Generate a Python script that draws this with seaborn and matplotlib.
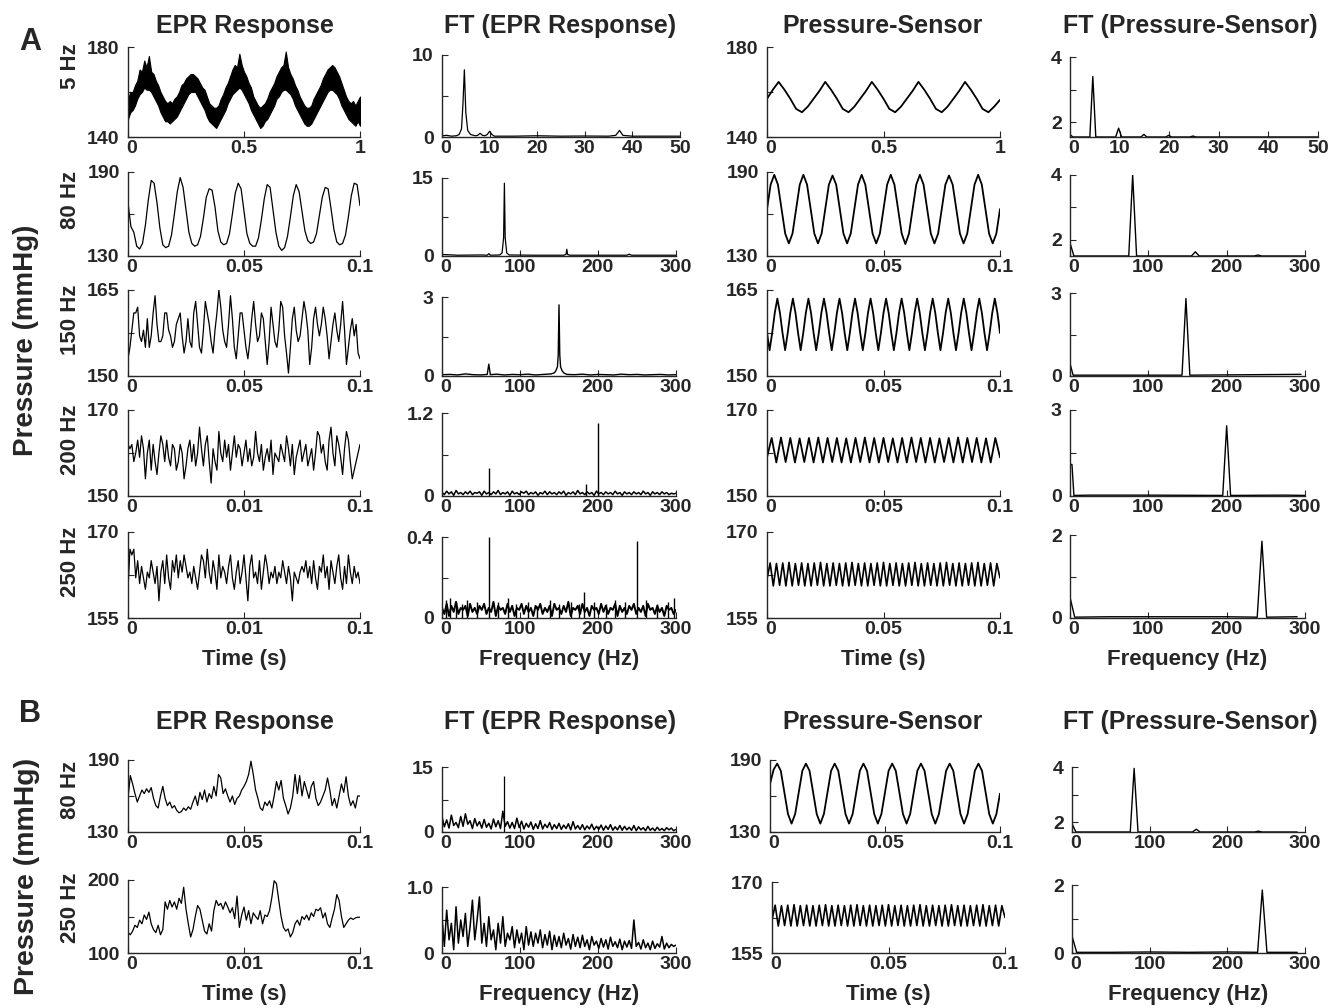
import numpy as np
import matplotlib
matplotlib.use("Agg")
import matplotlib.pyplot as plt
import matplotlib.transforms as mtransforms
import seaborn as sns

# ---------------- data ----------------
# Panel A, 5 Hz (t = 0..1 s): the EPR trace is drawn as its noisy band (upper / lower edge)
epr_5hz_hi = [157, 160, 160, 163, 165, 170, 169, 174, 171, 176, 169, 168, 165, 163, 160, 158, 156, 155, 156, 155,
              157, 158, 160, 163, 164, 166, 167, 168, 168, 167, 166, 164, 162, 161, 158, 155, 154, 153, 153, 154,
              157, 159, 162, 164, 167, 170, 172, 171, 177, 172, 169, 167, 164, 162, 158, 156, 154, 153, 154, 155,
              157, 160, 162, 164, 167, 169, 171, 172, 178, 171, 168, 166, 163, 161, 158, 156, 154, 153, 153, 154,
              157, 159, 161, 163, 166, 168, 170, 171, 172, 171, 169, 167, 164, 161, 158, 156, 155, 156, 154, 156,
              158]
epr_5hz_lo = [148, 151, 152, 154, 157, 159, 160, 162, 161, 161, 160, 158, 156, 154, 151, 149, 147, 147, 146, 147,
              148, 149, 151, 153, 155, 157, 159, 160, 160, 160, 158, 156, 154, 152, 149, 147, 146, 145, 144, 146,
              148, 150, 152, 155, 157, 159, 160, 161, 162, 161, 159, 157, 155, 152, 150, 148, 146, 144, 145, 147,
              148, 150, 152, 154, 157, 158, 160, 161, 161, 160, 159, 157, 154, 152, 150, 148, 146, 145, 145, 146,
              148, 150, 152, 154, 156, 158, 160, 161, 161, 160, 159, 157, 154, 152, 150, 148, 147, 146, 145, 147,
              145]
ft_epr_5hz_f = [0, 1, 2, 3, 3.6, 4.1, 4.4, 4.7, 5.0, 5.4, 6, 7, 7.5, 8, 8.5, 9, 9.5, 10, 10.5, 11,
                15, 20, 25, 30, 35, 36.5, 37.3, 38, 40, 45, 50]
ft_epr_5hz_a = [0.15, 0.2, 0.1, 0.15, 0.3, 1.0, 4.0, 8.2, 3.0, 0.8, 0.3, 0.15, 0.2, 0.45, 0.2, 0.15, 0.3, 0.7, 0.3, 0.1,
                0.1, 0.15, 0.1, 0.12, 0.1, 0.2, 0.8, 0.2, 0.1, 0.1, 0.1]
ps_5hz = [157, 161, 164.5, 161, 157, 152.5, 151, 153.5, 157, 160.5,
          164.5, 161, 157, 152.5, 151, 153.5, 157, 160.5,
          164.5, 161, 157, 152.5, 151, 153.5, 157, 160.5,
          164.5, 161, 157, 152.5, 151, 153.5, 157, 160.5,
          164.5, 161, 157, 152.5, 151, 153.5, 156.5]
ft_ps_5hz_f = [0, 0.6, 4.0, 4.6, 5.2, 9.2, 9.8, 10.4, 14.3, 14.9, 15.5, 19.3, 19.9, 20.5, 24.2, 24.8, 25.4, 50]
ft_ps_5hz_a = [1.62, 1.55, 1.55, 3.4, 1.55, 1.55, 1.82, 1.55, 1.55, 1.63, 1.55, 1.55, 1.6, 1.55, 1.55, 1.58, 1.55, 1.55]

# Panel A, 80 Hz (t = 0..0.1 s)
epr_80hz = [168, 151, 147, 137, 135, 139, 152, 170, 184, 182,
            168, 150, 138, 136, 137, 145, 160, 176, 186, 179,
            163, 147, 139, 137, 138, 144, 157, 172, 178, 177,
            165, 148, 140, 138, 139, 146, 160, 175, 182, 178,
            162, 146, 139, 137, 137, 143, 156, 171, 181, 179,
            163, 147, 137, 134, 136, 144, 158, 173, 181, 176,
            162, 148, 141, 139, 140, 146, 159, 172, 179, 178,
            164, 149, 140, 138, 139, 145, 158, 173, 182, 181,
            166]
ft_epr_80hz_f = [0, 20, 50, 58, 60, 62, 74, 77, 79, 80, 81, 83, 86, 120, 156, 159, 160, 161, 164, 200,
                 237, 240, 243, 300]
ft_epr_80hz_a = [0.3, 0.15, 0.2, 0.15, 0.45, 0.15, 0.2, 0.6, 3.5, 14.0, 3.5, 0.6, 0.2, 0.15, 0.15, 0.3, 1.3, 0.3,
                 0.15, 0.15, 0.15, 0.35, 0.15, 0.15]
ps_80hz = [163.5, 181, 188, 181, 163.5, 146, 139, 146,
           163.5, 181, 188, 181, 163.5, 146, 139, 146,
           163.5, 181, 187.5, 181, 163.5, 146, 139, 146,
           163.5, 181, 188, 181, 163.5, 146, 139, 146,
           163.5, 181, 188, 181, 163.5, 146, 138.5, 146,
           163.5, 181, 188, 181, 163.5, 146, 139, 146,
           163.5, 181, 187.5, 181, 163.5, 146, 139, 146,
           163.5, 181, 188, 181, 163.5, 146, 139, 146,
           163.5]
ft_ps_80hz_f = [0, 5, 75, 80, 85, 155, 160, 165, 235, 240, 245, 300]
ft_ps_80hz_a = [1.9, 1.5, 1.5, 4.0, 1.5, 1.5, 1.63, 1.5, 1.5, 1.53, 1.5, 1.5]

# Panel A, 150 Hz
epr_150hz = [153, 155, 158, 161, 161, 162, 157, 156,
             158, 155, 160, 155, 157, 161, 164, 159,
             156, 156, 157, 161, 161, 158, 157, 155,
             156, 159, 160, 161, 157, 154, 156, 160,
             156, 155, 161, 163, 159, 155, 154, 158,
             163, 161, 159, 156, 154, 158, 161, 165,
             162, 158, 156, 155, 159, 164, 160, 155,
             153, 157, 161, 161, 158, 155, 153, 156,
             160, 163, 159, 156, 157, 161, 160, 156,
             152, 156, 162, 159, 156, 155, 158, 163,
             162, 157, 154, 150.5, 155, 160, 162, 158,
             156, 157, 160, 163, 161, 158, 152, 155,
             160, 162, 159, 157, 159, 162, 160, 157,
             153, 156, 159, 161, 158, 156, 159, 163,
             158, 152, 155, 158, 160, 157, 159, 154,
             153]
ft_epr_150hz_f = [0, 10, 20, 30, 40, 50, 58, 60, 62, 70, 80, 90, 100, 110, 120, 130, 140, 144, 146, 148,
                  149, 150, 151, 152, 154, 156, 160, 170, 180, 190, 200, 210, 220, 230, 240, 250, 260, 270,
                  280, 290, 300]
ft_epr_150hz_a = [0.05, 0.06, 0.04, 0.08, 0.05, 0.04, 0.06, 0.45, 0.05, 0.07, 0.04, 0.06, 0.05, 0.07, 0.04,
                  0.06, 0.08, 0.12, 0.2, 0.35, 0.8, 2.7, 0.8, 0.35, 0.2, 0.12, 0.06, 0.05, 0.07, 0.04, 0.06,
                  0.05, 0.04, 0.07, 0.05, 0.06, 0.04, 0.05, 0.06, 0.04, 0.05]
ps_150hz = [157.5, 154.5, 157.5, 161, 163.5, 161,
            157.5, 154.5, 157.5, 161, 163.5, 161,
            157.5, 154.5, 157.5, 161, 163.5, 161,
            157.5, 154.5, 157.5, 161, 163.5, 161,
            157.5, 154.5, 157.5, 161, 163.5, 161,
            157.5, 154.5, 157.5, 161, 163.5, 161,
            157.5, 154.5, 157.5, 161, 163.5, 161,
            157.5, 154.5, 157.5, 161, 163.5, 161,
            157.5, 154.5, 157.5, 161, 163.5, 161,
            157.5, 154.5, 157.5, 161, 163.5, 161,
            157.5, 154.5, 157.5, 161, 163.5, 161,
            157.5, 154.5, 157.5, 161, 163.5, 161,
            157.5, 154.5, 157.5, 161, 163.5, 161,
            157.5, 154.5, 157.5, 161, 163.5, 161,
            157.5, 154.5, 157.5, 161, 163.5, 161,
            157.5]
ft_ps_150hz_f = [0, 4, 143, 148, 153, 295]
ft_ps_150hz_a = [0.45, 0.03, 0.03, 2.8, 0.03, 0.06]

# Panel A, 200 Hz
epr_200hz = [162, 161, 162, 158, 160, 163, 159, 164, 161, 154,
             160, 163, 156, 162, 158, 155, 160, 164, 162, 158,
             163, 159, 157, 162, 161, 156, 158, 162, 160, 154,
             157, 161, 163, 158, 162, 157, 160, 166, 161, 157,
             162, 164, 158, 153, 161, 158, 156, 165, 160, 158,
             163, 159, 162, 156, 160, 164, 159, 162, 161, 157,
             160, 163, 158, 161, 157, 159, 165, 160, 158, 162,
             156, 159, 161, 158, 163, 155, 160, 159, 158, 162,
             160, 158, 164, 161, 157, 162, 155, 159, 161, 163,
             158, 160, 162, 157, 159, 161, 156, 160, 165, 164,
             160, 162, 158, 156, 163, 166, 160, 157, 164, 162,
             159, 155, 161, 165, 163, 158, 154, 156, 158, 160,
             162]
ft_epr_200hz_a = [0.05, 0.02, 0.07, 0.03, 0.06, 0.01, 0.08, 0.03, 0.05, 0.02,
                  0.06, 0.03, 0.07, 0.02, 0.05, 0.04, 0.06, 0.01, 0.07, 0.03,
                  0.05, 0.02, 0.06, 0.03, 0.08, 0.02, 0.05, 0.03, 0.06, 0.01,
                  0.07, 0.03, 0.05, 0.02, 0.06, 0.04, 0.07, 0.02, 0.05, 0.03,
                  0.06, 0.01, 0.05, 0.03, 0.07, 0.02, 0.06, 0.03, 0.05, 0.02,
                  0.06, 0.03, 0.07, 0.01, 0.05, 0.03, 0.06, 0.02, 0.08, 0.03,
                  0.05, 0.02, 0.06, 0.03, 0.05, 0.01, 0.07, 0.03, 0.05, 0.02,
                  0.06, 0.03, 0.05, 0.02, 0.07, 0.03, 0.05, 0.01, 0.06, 0.03,
                  0.05, 0.02, 0.06, 0.03, 0.05, 0.02, 0.07, 0.03, 0.05, 0.01,
                  0.06, 0.03, 0.05, 0.02, 0.06, 0.03, 0.05, 0.02, 0.04, 0.03, 0.04]
ft_epr_200hz_spike_f = [60, 185, 200]
ft_epr_200hz_spike_h = [0.4, 0.17, 1.05]
ps_200hz = [159.0, 163.5, 157.8, 163.6, 157.9, 163.5, 157.8, 163.4, 157.9, 163.5,
            157.8, 163.6, 157.8, 163.5, 157.9, 163.5, 157.8, 163.4, 157.8, 163.5,
            157.9, 163.6, 157.8, 163.5, 157.8, 163.5, 157.9, 163.4, 157.8, 163.5,
            157.8, 163.6, 157.9, 163.5, 157.8, 163.5, 157.8, 163.4, 157.9, 163.5,
            157.8, 163.6, 157.8, 163.5, 157.9, 163.5, 157.8, 163.4, 157.8, 163.5,
            159.0]
ft_ps_200hz_f = [0, 2.5, 5, 25, 50, 75, 100, 195, 200, 205, 275, 300]
ft_ps_200hz_a = [1.1, 1.1, 0.02, 0.03, 0.03, 0.03, 0.03, 0.02, 2.45, 0.02, 0.03, 0.02]

# Panel A, 250 Hz
epr_250hz = [160, 167, 166, 167, 162, 165, 161, 164, 162, 160,
             163, 162, 165, 163, 161, 164, 158, 163, 165, 161,
             166, 162, 160, 165, 163, 166, 162, 165, 163, 166,
             164, 162, 163, 161, 164, 162, 160, 163, 166, 165,
             162, 167, 163, 161, 165, 163, 160, 166, 162, 164,
             163, 161, 164, 166, 162, 160, 163, 165, 161, 163,
             166, 162, 158, 164, 166, 162, 163, 161, 165, 160,
             163, 166, 164, 161, 163, 162, 164, 161, 163, 162,
             165, 163, 161, 164, 162, 158, 163, 162, 161, 163,
             164, 163, 165, 162, 164, 161, 165, 162, 160, 164,
             163, 166, 162, 164, 160, 165, 163, 161, 164, 166,
             162, 160, 164, 161, 166, 163, 161, 164, 162, 163,
             161]
ft_epr_250hz_a = [0.05, 0.02, 0.07, 0.01, 0.06, 0.03, 0.08, 0.02, 0.05, 0.04,
                  0.06, 0.01, 0.07, 0.03, 0.05, 0.02, 0.06, 0.04, 0.07, 0.02,
                  0.05, 0.03, 0.08, 0.01, 0.06, 0.04, 0.05, 0.02, 0.07, 0.03,
                  0.06, 0.01, 0.05, 0.04, 0.07, 0.02, 0.06, 0.03, 0.05, 0.01,
                  0.06, 0.04, 0.07, 0.02, 0.05, 0.03, 0.06, 0.01, 0.07, 0.04,
                  0.05, 0.02, 0.06, 0.03, 0.08, 0.01, 0.05, 0.04, 0.06, 0.02,
                  0.07, 0.03, 0.05, 0.01, 0.06, 0.04, 0.05, 0.02, 0.07, 0.03,
                  0.06, 0.02, 0.05, 0.04, 0.07, 0.01, 0.06, 0.03, 0.05, 0.02,
                  0.06, 0.04, 0.07, 0.02, 0.05, 0.03, 0.06, 0.01, 0.07, 0.04,
                  0.05, 0.02, 0.06, 0.03, 0.05, 0.01, 0.06, 0.04, 0.05, 0.02, 0.04]
ft_epr_250hz_spike_f = [5, 10, 18, 25, 32, 45, 60, 72, 85, 95, 110, 122, 138, 150, 165, 175, 182, 195,
                        210, 222, 235, 250, 262, 275, 290, 298]
ft_epr_250hz_spike_h = [0.09, 0.1, 0.08, 0.07, 0.09, 0.08, 0.4, 0.08, 0.1, 0.07, 0.08, 0.06, 0.09, 0.07,
                        0.08, 0.07, 0.13, 0.08, 0.07, 0.09, 0.08, 0.38, 0.09, 0.07, 0.08, 0.1]
ps_250hz = [161.8, 164.6, 160.6, 164.5, 160.7, 164.6, 160.6, 164.7, 160.6, 164.5,
            160.7, 164.6, 160.6, 164.5, 160.6, 164.6, 160.7, 164.7, 160.6, 164.5,
            160.6, 164.6, 160.7, 164.5, 160.6, 164.6, 160.6, 164.7, 160.7, 164.5,
            160.6, 164.6, 160.6, 164.5, 160.7, 164.6, 160.6, 164.7, 160.6, 164.5,
            160.7, 164.6, 160.6, 164.5, 160.6, 164.6, 160.7, 164.7, 160.6, 164.5,
            160.6, 164.6, 160.7, 164.5, 160.6, 164.6, 160.6, 164.7, 160.7, 164.5,
            160.6, 164.6, 160.6, 164.5, 160.7, 164.6, 160.6, 164.7, 160.6, 164.5,
            160.7, 164.6, 160.6, 164.5, 162.0]
ft_ps_250hz_f = [0, 6, 50, 100, 150, 200, 239, 245, 251, 290]
ft_ps_250hz_a = [0.5, 0.02, 0.03, 0.03, 0.03, 0.03, 0.02, 1.85, 0.02, 0.03]

# Panel B, 80 Hz
b_epr_80hz = [158, 177, 170, 162, 155, 160, 165, 162, 166, 163,
              167, 158, 152, 150, 160, 168, 158, 152, 155, 150,
              152, 148, 146, 147, 150, 148, 151, 149, 155, 160,
              152, 163, 157, 165, 155, 162, 158, 168, 160, 178,
              175, 162, 166, 160, 155, 160, 153, 158, 160, 165,
              168, 172, 178, 189, 178, 165, 158, 150, 148, 155,
              152, 156, 150, 160, 172, 165, 173, 158, 152, 145,
              150, 160, 178, 162, 177, 160, 172, 165, 158, 168,
              172, 158, 152, 155, 160, 165, 175, 165, 152, 158,
              150, 160, 170, 163, 176, 160, 152, 156, 150, 160,
              160]
b_ft_epr_80hz = [3.5, 1.2, 2.8, 0.9, 3.9, 1.5, 2.2, 1.0, 3.6, 1.3,
                 4.2, 1.8, 2.6, 0.8, 3.1, 1.4, 2.4, 0.9, 2.9, 1.1,
                 2.0, 0.7, 3.0, 1.2, 2.6, 0.8, 4.8, 1.3, 2.4, 0.9,
                 2.2, 0.8, 3.2, 1.0, 2.5, 0.7, 2.0, 1.1, 2.3, 0.6,
                 1.9, 0.8, 2.6, 0.7, 1.8, 1.0, 2.2, 0.6, 1.7, 0.8,
                 2.0, 0.6, 1.6, 0.8, 1.9, 0.5, 2.4, 0.7, 1.5, 0.6,
                 1.7, 0.5, 1.4, 0.7, 1.8, 0.5, 1.3, 0.6, 1.6, 0.4,
                 1.4, 0.6, 1.7, 0.4, 1.2, 0.5, 1.5, 0.4, 1.3, 0.5,
                 1.1, 0.4, 1.5, 0.3, 1.2, 0.5, 1.0, 0.3, 1.3, 0.4,
                 0.9, 0.3, 1.1, 0.4, 0.8, 0.3, 1.0, 0.5, 0.9, 0.3, 0.6]
b_ft_epr_80hz_spike_f = [80]
b_ft_epr_80hz_spike_h = [13.0]
b_ps_80hz = [170, 182, 187, 181, 163, 145, 137, 145,
             163, 181, 187, 181, 163, 145, 137, 145,
             163, 181, 187, 181, 163, 145, 137, 145,
             163, 181, 187, 181, 163, 145, 137, 145,
             163, 181, 187, 181, 163, 145, 137, 145,
             163, 181, 187, 181, 163, 145, 137, 145,
             163, 181, 187, 181, 163, 145, 137, 145,
             163, 181, 187, 181, 163, 145, 137, 145,
             162]
b_ft_ps_80hz_f = [0, 5, 75, 80, 85, 155, 160, 165, 235, 240, 245, 290]
b_ft_ps_80hz_a = [1.95, 1.65, 1.65, 3.95, 1.65, 1.65, 1.75, 1.65, 1.65, 1.68, 1.65, 1.65]

# Panel B, 250 Hz
b_epr_250hz = [128, 125, 130, 138, 135, 145, 140, 152, 146, 156,
               140, 132, 128, 138, 125, 132, 170, 160, 172, 163,
               170, 160, 175, 168, 190, 160, 140, 122, 132, 150,
               165, 160, 145, 130, 126, 140, 130, 158, 172, 165,
               168, 160, 170, 163, 155, 162, 147, 178, 135, 152,
               163, 145, 158, 140, 155, 150, 146, 158, 140, 152,
               150, 158, 176, 199, 195, 172, 150, 135, 130, 133,
               122, 128, 140, 145, 138, 150, 146, 152, 145, 155,
               150, 160, 158, 162, 148, 155, 140, 135, 148, 160,
               180, 172, 150, 135, 140, 145, 148, 146, 148, 149,
               149]
b_ft_epr_250hz = [0.55, 0.1, 0.65, 0.2, 0.45, 0.05, 0.7, 0.15, 0.5, 0.25,
                  0.6, 0.1, 0.4, 0.8, 0.2, 0.5, 0.85, 0.15, 0.45, 0.1,
                  0.55, 0.2, 0.35, 0.05, 0.45, 0.15, 0.55, 0.1, 0.3, 0.2,
                  0.4, 0.08, 0.35, 0.15, 0.3, 0.05, 0.4, 0.12, 0.32, 0.1,
                  0.3, 0.15, 0.35, 0.08, 0.28, 0.12, 0.33, 0.05, 0.27, 0.1,
                  0.25, 0.08, 0.3, 0.12, 0.22, 0.06, 0.28, 0.1, 0.24, 0.08,
                  0.27, 0.1, 0.2, 0.05, 0.25, 0.12, 0.18, 0.07, 0.22, 0.09,
                  0.2, 0.06, 0.24, 0.1, 0.17, 0.08, 0.21, 0.05, 0.18, 0.09,
                  0.19, 0.07, 0.5, 0.1, 0.16, 0.06, 0.2, 0.08, 0.15, 0.05,
                  0.18, 0.07, 0.14, 0.09, 0.25, 0.06, 0.15, 0.08, 0.13, 0.1, 0.12]
b_ps_250hz = [162.0, 165.1, 160.7, 165.0, 160.8, 165.1, 160.7, 165.2, 160.7, 165.0,
              160.8, 165.1, 160.7, 165.0, 160.7, 165.1, 160.8, 165.2, 160.7, 165.0,
              160.7, 165.1, 160.8, 165.0, 160.7, 165.1, 160.7, 165.2, 160.8, 165.0,
              160.7, 165.1, 160.7, 165.0, 160.8, 165.1, 160.7, 165.2, 160.7, 165.0,
              160.8, 165.1, 160.7, 165.0, 160.7, 165.1, 160.8, 165.2, 160.7, 165.0,
              160.7, 165.1, 160.8, 165.0, 160.7, 165.1, 160.7, 165.2, 160.8, 165.0,
              160.7, 165.1, 160.7, 165.0, 160.8, 165.1, 160.7, 165.2, 160.7, 165.0,
              160.8, 165.1, 160.7, 165.0, 162.5]
b_ft_ps_250hz_f = [0, 6, 50, 100, 150, 200, 239, 245, 251, 290]
b_ft_ps_250hz_a = [0.5, 0.02, 0.02, 0.03, 0.02, 0.03, 0.02, 1.85, 0.02, 0.02]

col_titles = ["EPR Response", "FT (EPR Response)", "Pressure-Sensor", "FT (Pressure-Sensor)"]
row_labels_a = ["5 Hz", "80 Hz", "150 Hz", "200 Hz", "250 Hz"]
row_labels_b = ["80 Hz", "250 Hz"]

# ---------------- figure ----------------
sns.set_style("ticks")
plt.rcParams['font.family'] = ['Liberation Sans', 'DejaVu Sans']
plt.rcParams['font.weight'] = 'bold'
plt.rcParams['axes.linewidth'] = 1.0

W, H = 1329, 1008
fig = plt.figure(figsize=(W / 100, H / 100), dpi=100)
nudge = mtransforms.ScaledTranslation(4 / 100, 0, fig.dpi_scale_trans)


def panel(x0, x1, top, bot):
    return fig.add_axes([x0 / W, 1 - bot / H, (x1 - x0) / W, (bot - top) / H])


def style(ax, xlim, xlabels, ylim, yticks, ylabels):
    ax.set_xlim(xlim)
    ax.set_ylim(ylim)
    ax.set_xticks(np.linspace(xlim[0], xlim[1], len(xlabels)))
    ax.set_xticklabels(xlabels)
    ax.set_yticks(yticks)
    ax.set_yticklabels(ylabels)
    ax.set_xlabel("")
    ax.set_ylabel("")
    sns.despine(ax=ax)
    ax.tick_params(direction="in", length=4, width=0.8, labelsize=14)
    ax.tick_params(axis="x", pad=2)
    ax.tick_params(axis="y", pad=6)
    for lab in ax.get_xticklabels() + ax.get_yticklabels():
        lab.set_fontweight("bold")
    # the "0" at the origin sits a little right of the y axis, as in the original
    first = ax.get_xticklabels()[0]
    first.set_transform(first.get_transform() + nudge)


def line(ax, x, y, lw=0.9):
    sns.lineplot(x=np.asarray(x, float), y=np.asarray(y, float), ax=ax, color="black",
                 linewidth=lw, estimator=None, sort=False)


def tgrid(vals, tmax):
    return np.linspace(0, tmax, len(vals))


def axis_label(ax, s):
    ax.set_xlabel(s, fontsize=16, fontweight="bold", labelpad=8)


C1, C2, C3, C4 = (128, 360), (442, 676), (767, 1000), (1070, 1305)
ft_labels_300 = ["0", "100", "200", "300"]

# ---- A row 1 : 5 Hz
ax = panel(C1[0], C1[1], 47, 137)
t = tgrid(epr_5hz_hi, 1)
ax.fill_between(t, epr_5hz_lo, epr_5hz_hi, color="black", lw=0.8)
style(ax, (0, 1), ["0", "0.5", "1"], (140, 180), [140, 160, 180], ["140", "", "180"])

ax = panel(C2[0], 680, 55, 137)
line(ax, ft_epr_5hz_f, ft_epr_5hz_a, 0.9)
style(ax, (0, 50), ["0", "10", "20", "30", "40", "50"], (0, 10), [0, 5, 10], ["0", "", "10"])

ax = panel(C3[0], C3[1], 47, 137)
line(ax, tgrid(ps_5hz, 1), ps_5hz, 1.3)
style(ax, (0, 1), ["0", "0.5", "1"], (140, 180), [140, 160, 180], ["140", "", "180"])

ax = panel(C4[0], 1318, 57, 137)
line(ax, ft_ps_5hz_f, ft_ps_5hz_a, 1.0)
style(ax, (0, 50), ["0", "10", "20", "30", "40", "50"], (1.55, 4), [2, 3, 4], ["2", "", "4"])

# ---- A row 2 : 80 Hz
ax = panel(C1[0], C1[1], 172, 256)
line(ax, tgrid(epr_80hz, 0.1), epr_80hz, 0.9)
style(ax, (0, 0.1), ["0", "0.05", "0.1"], (130, 190), [130, 160, 190], ["130", "", "190"])

ax = panel(C2[0], C2[1], 178, 256)
line(ax, ft_epr_80hz_f, ft_epr_80hz_a, 0.9)
style(ax, (0, 300), ft_labels_300, (0, 15), [0, 7.5, 15], ["0", "", "15"])

ax = panel(C3[0], C3[1], 172, 256)
line(ax, tgrid(ps_80hz, 0.1), ps_80hz, 1.3)
style(ax, (0, 0.1), ["0", "0.05", "0.1"], (130, 190), [130, 160, 190], ["130", "", "190"])

ax = panel(C4[0], C4[1], 175, 256)
line(ax, ft_ps_80hz_f, ft_ps_80hz_a, 1.0)
style(ax, (0, 300), ft_labels_300, (1.5, 4), [2, 3, 4], ["2", "", "4"])

# ---- A row 3 : 150 Hz
ax = panel(C1[0], C1[1], 290, 376)
line(ax, tgrid(epr_150hz, 0.1), epr_150hz, 0.9)
style(ax, (0, 0.1), ["0", "0.05", "0.1"], (150, 165), [150, 157.5, 165], ["150", "", "165"])

ax = panel(C2[0], C2[1], 297, 376)
line(ax, ft_epr_150hz_f, ft_epr_150hz_a, 1.0)
style(ax, (0, 300), ft_labels_300, (0, 3), [0, 1.5, 3], ["0", "", "3"])

ax = panel(C3[0], C3[1], 290, 376)
line(ax, tgrid(ps_150hz, 0.1), ps_150hz, 1.3)
style(ax, (0, 0.1), ["0", "0.05", "0.1"], (150, 165), [150, 157.5, 165], ["150", "", "165"])

ax = panel(C4[0], C4[1], 293, 376)
line(ax, ft_ps_150hz_f, ft_ps_150hz_a, 1.0)
style(ax, (0, 300), ft_labels_300, (0, 3), [0, 1.5, 3], ["0", "", "3"])

# ---- A row 4 : 200 Hz
ax = panel(C1[0], C1[1], 410, 496)
line(ax, tgrid(epr_200hz, 0.1), epr_200hz, 0.9)
style(ax, (0, 0.1), ["0", "0.01", "0.1"], (150, 170), [150, 160, 170], ["150", "", "170"])

ax = panel(C2[0], C2[1], 413, 496)
line(ax, tgrid(ft_epr_200hz_a, 300), ft_epr_200hz_a, 1.1)
ax.vlines(ft_epr_200hz_spike_f, 0, ft_epr_200hz_spike_h, color="black", lw=1.0)
style(ax, (0, 300), ft_labels_300, (0, 1.2), [0, 0.6, 1.2], ["0", "", "1.2"])

ax = panel(C3[0], C3[1], 410, 496)
line(ax, tgrid(ps_200hz, 0.1), ps_200hz, 1.3)
style(ax, (0, 0.1), ["0", "0:05", "0.1"], (150, 170), [150, 160, 170], ["150", "", "170"])

ax = panel(C4[0], C4[1], 410, 496)
line(ax, ft_ps_200hz_f, ft_ps_200hz_a, 1.0)
style(ax, (0, 300), ft_labels_300, (0, 3), [0, 1.5, 3], ["0", "", "3"])

# ---- A row 5 : 250 Hz
ax = panel(C1[0], C1[1], 532, 618)
line(ax, tgrid(epr_250hz, 0.1), epr_250hz, 0.9)
style(ax, (0, 0.1), ["0", "0.01", "0.1"], (155, 170), [155, 162.5, 170], ["155", "", "170"])
axis_label(ax, "Time (s)")

ax = panel(C2[0], C2[1], 537, 618)
line(ax, tgrid(ft_epr_250hz_a, 300), ft_epr_250hz_a, 1.4)
ax.vlines(ft_epr_250hz_spike_f, 0, ft_epr_250hz_spike_h, color="black", lw=1.0)
style(ax, (0, 300), ft_labels_300, (0, 0.4), [0, 0.2, 0.4], ["0", "", "0.4"])
axis_label(ax, "Frequency (Hz)")

ax = panel(C3[0], C3[1], 532, 618)
line(ax, tgrid(ps_250hz, 0.1), ps_250hz, 1.2)
style(ax, (0, 0.1), ["0", "0.05", "0.1"], (155, 170), [155, 162.5, 170], ["155", "", "170"])
axis_label(ax, "Time (s)")

ax = panel(C4[0], C4[1], 535, 618)
line(ax, ft_ps_250hz_f, ft_ps_250hz_a, 1.0)
style(ax, (0, 300), ft_labels_300, (0, 2), [0, 1, 2], ["0", "", "2"])
axis_label(ax, "Frequency (Hz)")

# ---- B row 1 : 80 Hz
ax = panel(C1[0], C1[1], 760, 832)
line(ax, tgrid(b_epr_80hz, 0.1), b_epr_80hz, 0.9)
style(ax, (0, 0.1), ["0", "0.05", "0.1"], (130, 190), [130, 160, 190], ["130", "", "190"])

ax = panel(C2[0], C2[1], 767, 832)
line(ax, tgrid(b_ft_epr_80hz, 300), b_ft_epr_80hz, 1.1)
ax.vlines(b_ft_epr_80hz_spike_f, 0, b_ft_epr_80hz_spike_h, color="black", lw=0.9)
style(ax, (0, 300), ft_labels_300, (0, 15), [0, 7.5, 15], ["0", "", "15"])

ax = panel(C3[0] + 3, C3[1], 760, 832)
line(ax, tgrid(b_ps_80hz, 0.1), b_ps_80hz, 1.3)
style(ax, (0, 0.1), ["0", "0.05", "0.1"], (130, 190), [130, 160, 190], ["130", "", "190"])

ax = panel(C4[0] + 2, C4[1], 767, 832)
line(ax, b_ft_ps_80hz_f, b_ft_ps_80hz_a, 1.0)
style(ax, (0, 300), ft_labels_300, (1.65, 4), [2, 3, 4], ["2", "", "4"])

# ---- B row 2 : 250 Hz
ax = panel(C1[0], C1[1], 880, 953)
line(ax, tgrid(b_epr_250hz, 0.1), b_epr_250hz, 0.9)
style(ax, (0, 0.1), ["0", "0.01", "0.1"], (100, 200), [100, 150, 200], ["100", "", "200"])
axis_label(ax, "Time (s)")

ax = panel(C2[0], C2[1], 887, 953)
line(ax, tgrid(b_ft_epr_250hz, 300), b_ft_epr_250hz, 1.1)
style(ax, (0, 300), ft_labels_300, (0, 1.0), [0, 0.5, 1.0], ["0", "", "1.0"])
axis_label(ax, "Frequency (Hz)")

ax = panel(C3[0] + 5, C3[1] + 5, 882, 953)
line(ax, tgrid(b_ps_250hz, 0.1), b_ps_250hz, 1.2)
style(ax, (0, 0.1), ["0", "0.05", "0.1"], (155, 170), [155, 162.5, 170], ["155", "", "170"])
axis_label(ax, "Time (s)")

ax = panel(C4[0] + 2, C4[1], 885, 953)
line(ax, b_ft_ps_250hz_f, b_ft_ps_250hz_a, 1.0)
style(ax, (0, 300), ft_labels_300, (0, 2), [0, 1, 2], ["0", "", "2"])
axis_label(ax, "Frequency (Hz)")


# ---------------- figure-level text ----------------
def ftext(x, y, s, **kw):
    fig.text(x / W, 1 - y / H, s, ha="center", va="center", fontweight="bold", **kw)


title_x = [245, 560, 883, 1190]
for x, s in zip(title_x, col_titles):
    ftext(x, 26, s, fontsize=18)
    ftext(x, 722, s, fontsize=18)

ftext(30, 42, "A", fontsize=22)
ftext(30, 714, "B", fontsize=22)

for y, s in zip([66, 200, 320, 440, 562], row_labels_a):
    ftext(70, y, s, fontsize=16, rotation=90)
for y, s in zip([790, 908], row_labels_b):
    ftext(70, y, s, fontsize=16, rotation=90)

ftext(26, 340, "Pressure (mmHg)", fontsize=20, rotation=90)
ftext(27, 876, "Pressure (mmHg)", fontsize=20.5, rotation=90)

fig.savefig("out.png", dpi=100)
